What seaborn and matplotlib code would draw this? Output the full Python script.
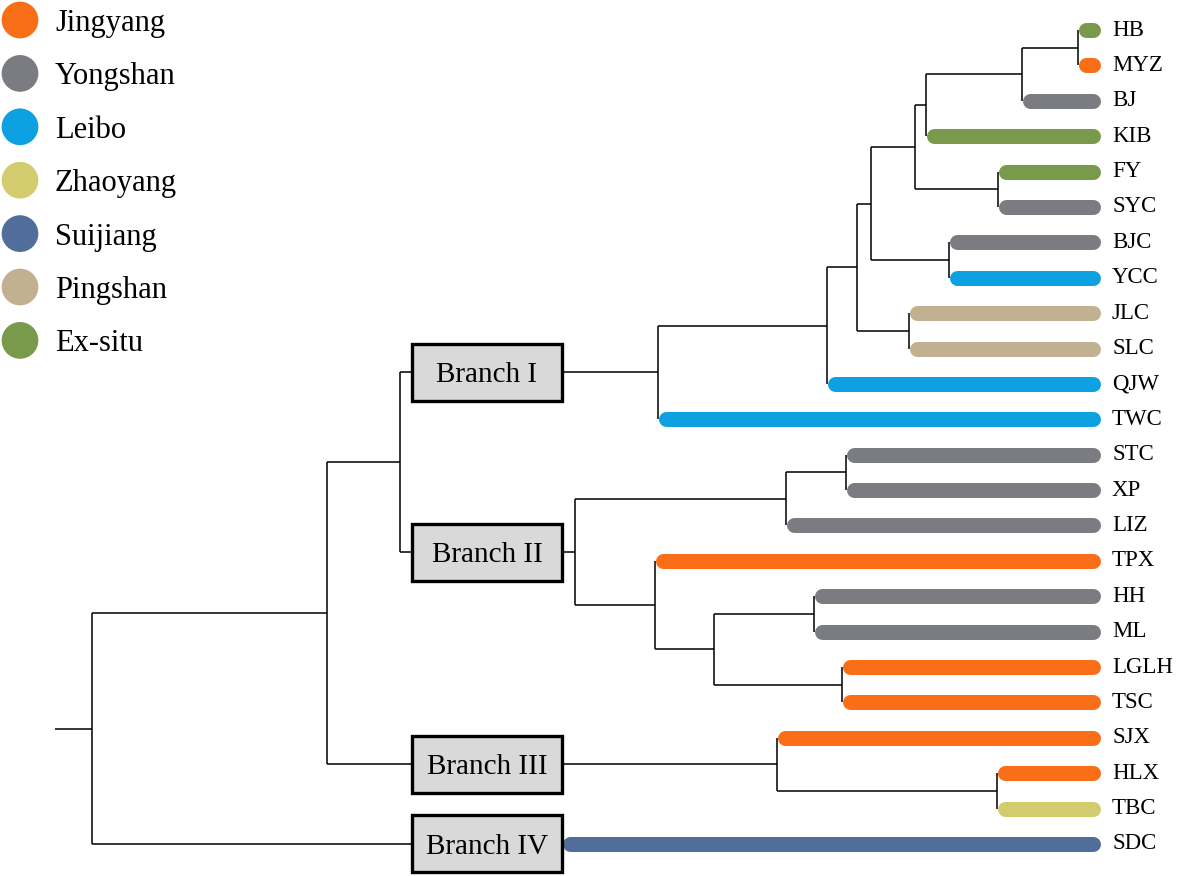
import numpy as np
import pandas as pd
import matplotlib.pyplot as plt
from matplotlib.patches import Rectangle
import seaborn as sns

# leaves, top to bottom
LEAVES = ["HB", "MYZ", "BJ", "KIB", "FY", "SYC", "BJC", "YCC", "JLC", "SLC", "QJW", "TWC",
          "STC", "XP", "LIZ", "TPX", "HH", "ML", "LGLH", "TSC", "SJX", "HLX", "TBC", "SDC"]
LEAF_GROUP = ["Ex-situ", "Jingyang", "Yongshan", "Ex-situ", "Ex-situ", "Yongshan", "Yongshan",
              "Leibo", "Pingshan", "Pingshan", "Leibo", "Leibo", "Yongshan", "Yongshan",
              "Yongshan", "Jingyang", "Yongshan", "Yongshan", "Jingyang", "Jingyang",
              "Jingyang", "Jingyang", "Zhaoyang", "Suijiang"]

GROUPS = ["Jingyang", "Yongshan", "Leibo", "Zhaoyang", "Suijiang", "Pingshan", "Ex-situ"]
GROUP_COLORS = ["#F96E16", "#7B7C81", "#0EA1E1", "#D3CC6F", "#506E99", "#C2B190", "#799A4B"]

# merges (internal nodes): left child, right child, depth position
NODE_NAMES = ["n0", "n1", "n2", "n3", "n4", "n5", "n6", "n7", "n8", "n9", "n10",
              "n11", "n12", "n13", "n14", "n15", "n16", "n17",
              "n18", "n19", "n20", "n21", "n22"]
NODE_LEFT = ["HB", "n0", "n1", "FY", "n2", "BJC", "n4", "JLC", "n6", "n8", "n9",
             "STC", "n11", "HH", "LGLH", "n13", "TPX", "n12",
             "HLX", "SJX", "n10", "n20", "n21"]
NODE_RIGHT = ["MYZ", "BJ", "KIB", "SYC", "n3", "YCC", "n5", "SLC", "n7", "QJW", "TWC",
              "XP", "LIZ", "ML", "TSC", "n14", "n15", "n16",
              "TBC", "n18", "n17", "n19", "SDC"]
NODE_X = [1078, 1022, 926, 998, 915, 949, 871, 909, 857, 827, 658,
          846, 786, 814, 842, 714, 655, 575,
          997, 777, 400, 327, 92]

BRANCH_NODES = ["n10", "n17", "n19", "SDC"]
BRANCH_LABELS = ["Branch I", "Branch II", "Branch III", "Branch IV"]

ROOT_X0 = 55
TIP_X = 1100

sns.set_theme(style="white")
plt.rcParams["font.family"] = ["Liberation Serif", "DejaVu Serif"]
plt.rcParams["text.color"] = "black"

fig = plt.figure(figsize=(11.81, 8.76), dpi=100)
ax = fig.add_axes([0, 0, 1, 1])

PX = 1 / 35.39           # one pixel in leaf-index units
BAR_W = 15               # bar thickness, px
BOX_L, BOX_R, BOX_H = 412, 562, 57
LINE_KW = dict(color="black", lw=1.1, solid_capstyle="butt", zorder=2)

color_of = dict(zip(GROUPS, GROUP_COLORS))
ypos = {name: i for i, name in enumerate(LEAVES)}
xpos = {}
children = {}
for name, l, r, x in zip(NODE_NAMES, NODE_LEFT, NODE_RIGHT, NODE_X):
    ypos[name] = (ypos[l] + ypos[r]) / 2
    xpos[name] = x
    children[name] = (l, r)
branch_of = dict(zip(BRANCH_NODES, BRANCH_LABELS))


def draw_box(y, label):
    ax.add_patch(Rectangle((BOX_L, y - BOX_H / 2 * PX), BOX_R - BOX_L, BOX_H * PX,
                           facecolor="#D9D9D9", edgecolor="black", lw=2.4, zorder=3))
    ax.text((BOX_L + BOX_R) / 2, y, label, ha="center", va="center_baseline",
            fontsize=21, color="black", zorder=4)


for name in NODE_NAMES:
    x = xpos[name]
    l, r = children[name]
    ax.plot([x, x], [ypos[l], ypos[r]], **LINE_KW)
    for c in (l, r):
        y = ypos[c]
        start = x
        if c in branch_of:
            ax.plot([x, BOX_L], [y, y], **LINE_KW)
            draw_box(y, branch_of[c])
            start = BOX_R
        if c in xpos:
            ax.plot([start, xpos[c]], [y, y], **LINE_KW)
        else:
            col = color_of[LEAF_GROUP[LEAVES.index(c)]]
            ax.plot([start + BAR_W / 2, TIP_X - BAR_W / 2], [y, y], color=col,
                    lw=BAR_W * 0.72, solid_capstyle="round", zorder=1)
            ax.text(1112, y, c, ha="left", va="center", fontsize=16.5, color="black")

root = NODE_NAMES[-1]
ax.plot([ROOT_X0, xpos[root]], [ypos[root], ypos[root]], **LINE_KW)

# legend
leg = pd.DataFrame({"group": GROUPS})
leg["x"] = 20
leg["y"] = [(20 + 53.4 * k - 30) * PX for k in range(len(GROUPS))]
sns.scatterplot(data=leg, x="x", y="y", hue="group", palette=color_of, s=700,
                edgecolor="none", legend=False, ax=ax, zorder=5)
for _, row in leg.iterrows():
    ax.text(55, row["y"], row["group"], ha="left", va="center_baseline",
            fontsize=22, color="black")

ax.set_xlim(0, 1181)
ax.set_ylim(23.905, -0.848)
ax.axis("off")

fig.savefig("out.png", dpi=100, facecolor="white")
